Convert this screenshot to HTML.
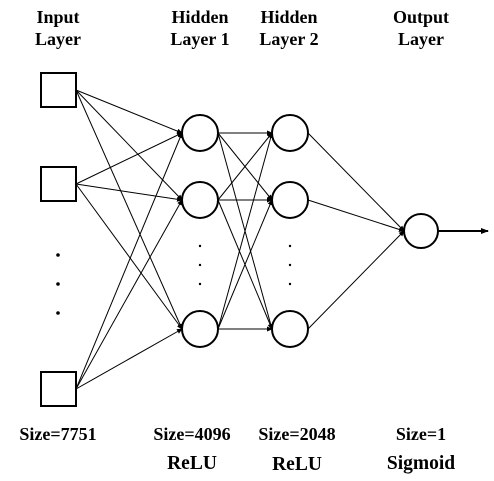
<!DOCTYPE html>
<html><head><meta charset="utf-8"><style>
html,body{margin:0;padding:0;background:#fff;}
svg{display:block;}
text{font-family:"Liberation Serif",serif;font-weight:bold;font-size:18px;fill:#000;text-anchor:middle;}
text.b{font-size:19.5px;}
</style></head><body>
<svg width="494" height="481" viewBox="0 0 494 481" xmlns="http://www.w3.org/2000/svg">
<defs><marker id="a" markerWidth="6" markerHeight="6" refX="5" refY="3" orient="auto" markerUnits="userSpaceOnUse"><path d="M0,0.5 L6,3 L0,5.5z" fill="#000"/></marker>
<marker id="b" markerWidth="8" markerHeight="8" refX="7" refY="4" orient="auto" markerUnits="userSpaceOnUse"><path d="M0,1 L8,4 L0,7z" fill="#000"/></marker></defs>
<text x="58" y="23">Input</text><text x="58" y="45">Layer</text>
<text x="200" y="23">Hidden</text><text x="200" y="45">Layer 1</text>
<text x="289" y="23">Hidden</text><text x="289" y="45">Layer 2</text>
<text x="421" y="23">Output</text><text x="421" y="45">Layer</text>
<g stroke="#000" stroke-width="1" marker-end="url(#a)">
<line x1="76" y1="90" x2="182" y2="133"/><line x1="76" y1="90" x2="182" y2="200"/><line x1="76" y1="90" x2="182" y2="329"/>
<line x1="76" y1="184" x2="182" y2="133"/><line x1="76" y1="184" x2="182" y2="200"/><line x1="76" y1="184" x2="182" y2="329"/>
<line x1="76" y1="389" x2="182" y2="133"/><line x1="76" y1="389" x2="182" y2="200"/><line x1="76" y1="389" x2="182" y2="329"/>
<line x1="218" y1="133" x2="272" y2="133"/><line x1="218" y1="133" x2="272" y2="200"/><line x1="218" y1="133" x2="272" y2="329"/>
<line x1="218" y1="200" x2="272" y2="133"/><line x1="218" y1="200" x2="272" y2="200"/><line x1="218" y1="200" x2="272" y2="329"/>
<line x1="218" y1="329" x2="272" y2="133"/><line x1="218" y1="329" x2="272" y2="200"/><line x1="218" y1="329" x2="272" y2="329"/>
<line x1="308" y1="133" x2="404" y2="231"/><line x1="308" y1="200" x2="404" y2="231"/><line x1="308" y1="329" x2="404" y2="231"/>
</g>
<line x1="438" y1="231" x2="488" y2="231" stroke="#000" stroke-width="2" marker-end="url(#b)"/>
<g fill="#fff" stroke="#000" stroke-width="2">
<rect x="41" y="73" width="35" height="34"/><rect x="41" y="167" width="35" height="34"/><rect x="41" y="372" width="35" height="34"/>
<circle cx="200" cy="133" r="18"/><circle cx="200" cy="200" r="18"/><circle cx="200" cy="329" r="18"/>
<circle cx="290" cy="133" r="18"/><circle cx="290" cy="200" r="18"/><circle cx="290" cy="329" r="18"/>
<circle cx="421" cy="231" r="17"/>
</g>
<g fill="#000">
<circle cx="58" cy="255" r="1.8"/><circle cx="58" cy="284" r="1.8"/><circle cx="58" cy="313" r="1.8"/>
<circle cx="200" cy="246" r="1.2"/><circle cx="200" cy="265" r="1.2"/><circle cx="200" cy="284" r="1.2"/>
<circle cx="290" cy="246" r="1.2"/><circle cx="290" cy="265" r="1.2"/><circle cx="290" cy="284" r="1.2"/>
</g>
<text x="58" y="440">Size=7751</text>
<text x="192" y="440">Size=4096</text>
<text x="297" y="440">Size=2048</text>
<text x="421" y="440">Size=1</text>
<text class="b" x="192" y="469">ReLU</text>
<text class="b" x="297" y="470">ReLU</text>
<text class="b" x="421" y="469">Sigmoid</text>
</svg>
</body></html>
